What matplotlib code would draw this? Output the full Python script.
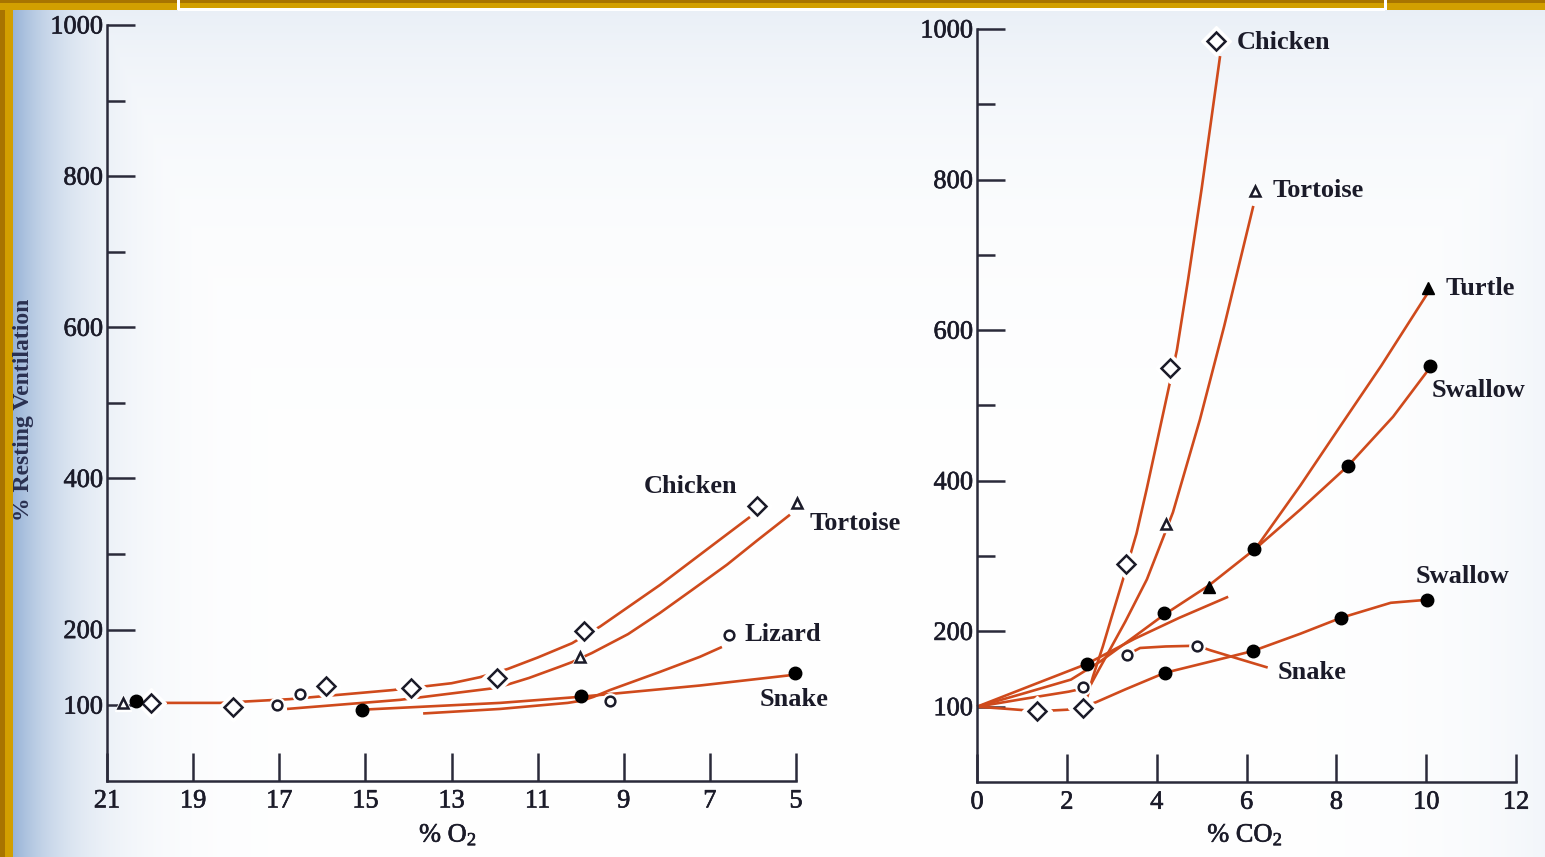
import numpy as np
import matplotlib
matplotlib.use('Agg')
import matplotlib.pyplot as plt
from matplotlib.patches import Rectangle
import matplotlib.patheffects as pe

# ---------------- data ----------------
# Left panel: % O2 (hypoxia)
o2_chicken_x = [19.98, 18.07, 15.91, 13.94, 11.94, 9.92, 5.90]
o2_chicken_y = [103, 97, 126, 123, 136, 198, 364]
o2_tortoise_x = [20.63, 10.01, 4.98]
o2_tortoise_y = [103, 164, 368]
o2_lizard_x = [17.05, 16.52, 9.32, 6.55]
o2_lizard_y = [100, 115, 106, 193]
o2_snake_x = [20.33, 15.08, 9.99, 5.02]
o2_snake_y = [106, 94, 112, 142]

o2_chicken_curve_x = [19.65, 18.38, 16.75, 14.36, 13.0, 12.34, 11.69, 11.0, 10.20, 9.55, 8.16, 7.0, 6.07]
o2_chicken_curve_y = [103, 103, 108, 120, 129, 137, 148, 163, 182, 204, 259, 309, 349]
o2_tortoise_curve_x = [16.82, 14.20, 11.94, 11.2, 10.48, 10.20, 9.74, 8.9, 8.16, 7.4, 6.60, 5.9, 5.14]
o2_tortoise_curve_y = [95, 107, 123, 136, 151, 157, 169, 194, 222, 253, 286, 318, 352]
o2_snake_curve_x = [15.08, 11.87, 10.02, 7.23, 5.07]
o2_snake_curve_y = [94, 103, 111, 126, 140]
o2_lizard_curve_x = [13.66, 11.87, 10.3, 9.97, 9.7, 9.32, 8.16, 7.23, 6.72]
o2_lizard_curve_y = [89, 95, 103, 106, 111, 120, 144, 164, 177]

# Right panel: % CO2 (hypercapnia)
co2_chicken_x = [1.34, 2.36, 3.32, 4.30, 5.32]
co2_chicken_y = [94, 98, 289, 550, 984]
co2_tortoise_x = [4.21, 6.19]
co2_tortoise_y = [342, 785]
co2_turtle_x = [5.16, 10.04]
co2_turtle_y = [259, 656]
co2_swallow_hi_x = [2.45, 4.16, 6.17, 8.26, 10.08]
co2_swallow_hi_y = [157, 225, 310, 420, 552]
co2_snake_x = [2.36, 3.34, 4.90]
co2_snake_y = [126, 169, 181]
co2_swallow_lo_x = [4.18, 6.14, 8.10, 10.02]
co2_swallow_lo_y = [145, 174, 218, 242]

co2_chicken_curve_x = [0, 0.7, 1.34, 2.0, 2.36, 2.45, 2.58, 2.8, 3.0, 3.32, 3.55, 3.78, 4.28, 4.45, 4.7, 5.0, 5.41]
co2_chicken_curve_y = [100, 97, 94, 96, 99, 112, 140, 180, 220, 283, 330, 390, 527, 574, 668, 788, 964]
co2_tortoise_curve_x = [0, 1.0, 2.04, 2.5, 2.7, 2.83, 3.3, 3.78, 4.14, 4.36, 4.96, 5.5, 6.15]
co2_tortoise_curve_y = [100, 110, 120, 126, 148, 162, 213, 269, 324, 358, 481, 605, 765]
co2_turtle_curve_x = [0, 1.0, 2.09, 2.74, 3.5, 4.16, 5.16, 6.2, 7.2, 8.08, 9.0, 10.04]
co2_turtle_curve_y = [100, 117, 136, 160, 193, 222, 261, 310, 394, 472, 553, 650]
co2_swallow_hi_curve_x = [6.2, 7.2, 8.26, 9.26, 10.08]
co2_swallow_hi_curve_y = [310, 362, 420, 485, 550]
co2_extra_curve_x = [0, 1.2, 2.45, 3.5, 4.5, 5.59]
co2_extra_curve_y = [100, 128, 157, 190, 218, 246]
co2_snake_curve_x = [3.34, 3.63, 4.2, 4.9, 5.19, 5.8, 6.47]
co2_snake_curve_y = [169, 178, 180, 181, 175, 164, 152]
co2_swallow_lo_curve_x = [2.45, 2.65, 3.3, 4.18, 5.2, 6.14, 7.2, 8.10, 9.21, 10.02]
co2_swallow_lo_curve_y = [102, 106, 123, 145, 160, 174, 197, 218, 238, 242]

y_major = [100, 200, 400, 600, 800, 1000]
y_major_labels = ['100', '200', '400', '600', '800', '1000']
y_minor = [300, 500, 700, 900]
o2_ticks = [21, 19, 17, 15, 13, 11, 9, 7, 5]
co2_ticks = [0, 2, 4, 6, 8, 10, 12]

# ---------------- style ----------------
plt.rcParams['font.family'] = ['Liberation Serif', 'DejaVu Serif']
plt.rcParams['mathtext.fontset'] = 'custom'
plt.rcParams['mathtext.rm'] = 'Liberation Serif'
plt.rcParams['mathtext.it'] = 'Liberation Serif:italic'

TXT = '#1b1b29'
AXC = '#2a2a3a'
CURVE = '#cf4a1c'
HEAVY = [pe.withStroke(linewidth=0.45, foreground=TXT)]

W, H = 1545, 857
fig = plt.figure(figsize=(W / 100, H / 100), dpi=100)

# background gradient and border
bg = fig.add_axes([0, 0, 1, 1])
bg.set_axis_off()
xx = np.arange(W)[None, :].astype(float)
yy = np.arange(H)[:, None].astype(float)
f = np.exp(-np.clip(xx - 12, 0, None) / 55.0)
f = np.maximum(f, 0.22 * np.exp(-yy / 130.0))
f = np.maximum(f, 0.12 * np.exp(-(W - xx) / 90.0))
blue = np.array([150, 178, 214]) / 255.0
img = (1 - f)[..., None] * np.ones(3) + f[..., None] * blue
bg.imshow(img, extent=[0, W, H, 0], aspect='auto', interpolation='bilinear')
bg.set_xlim(0, W)
bg.set_ylim(H, 0)
bg.add_patch(Rectangle((0, 0), 13, H, color='#d29f00', lw=0))
bg.add_patch(Rectangle((0, 0), 5, H, color='#a87400', lw=0))
bg.add_patch(Rectangle((0, 0), W, 9.5, color='#d29f00', lw=0))
bg.add_patch(Rectangle((0, 0), W, 3, color='#a87400', lw=0))
bg.add_patch(Rectangle((178, 8), 1207, 3, color='white', lw=0))
bg.add_patch(Rectangle((177, 0), 2.5, 10, color='white', lw=0))
bg.add_patch(Rectangle((1384, 0), 2.5, 10, color='white', lw=0))


def style_axes(ax):
    ax.set_facecolor('none')
    for s in ['top', 'right']:
        ax.spines[s].set_visible(False)
    for s in ['left', 'bottom']:
        ax.spines[s].set_color(AXC)
        ax.spines[s].set_linewidth(1.8)
    ax.tick_params(which='major', direction='in', length=20, width=1.8, colors=AXC,
                   labelsize=19, labelcolor=TXT)
    ax.tick_params(axis='y', which='major', pad=3)
    ax.tick_params(axis='x', which='major', pad=7)
    ax.tick_params(axis='y', which='minor', direction='in', length=13, width=1.8, colors=AXC)
    ax.set_ylim(0, 1000)
    ax.set_yticks(y_major)
    ax.set_yticklabels(y_major_labels)
    ax.set_yticks(y_minor, minor=True)


def heavy_ticklabels(ax):
    for t in ax.get_xticklabels() + ax.get_yticklabels():
        t.set_path_effects(HEAVY)


def curve(ax, x, y):
    ax.plot(x, y, color=CURVE, lw=1.9, zorder=2, solid_capstyle='butt',
            solid_joinstyle='round', clip_on=False)


def open_marks(ax, x, y, marker, ms, halo=6):
    ax.plot(x, y, ls='none', marker=marker, ms=ms + halo, mfc='white', mec='white',
            zorder=3, clip_on=False)
    ax.plot(x, y, ls='none', marker=marker, ms=ms, mfc='white', mec=TXT, mew=1.8,
            zorder=4, clip_on=False)


def filled_marks(ax, x, y, marker, ms):
    ax.plot(x, y, ls='none', marker=marker, ms=ms, mfc='black', mec='black',
            zorder=4, clip_on=False)


lab = dict(fontsize=19, fontweight='bold', color=TXT)

# ---------------- left panel ----------------
ax1 = fig.add_axes([0.0693, 0.0890, 0.4459, 0.8818])
style_axes(ax1)
ax1.set_xlim(21, 5)
ax1.set_xticks(o2_ticks)
ax1.set_xticklabels([str(t) for t in o2_ticks])
heavy_ticklabels(ax1)

curve(ax1, o2_chicken_curve_x, o2_chicken_curve_y)
curve(ax1, o2_tortoise_curve_x, o2_tortoise_curve_y)
curve(ax1, o2_snake_curve_x, o2_snake_curve_y)
curve(ax1, o2_lizard_curve_x, o2_lizard_curve_y)
open_marks(ax1, o2_chicken_x, o2_chicken_y, 'D', 9.5)
open_marks(ax1, o2_tortoise_x, o2_tortoise_y, '^', 7, halo=4)
open_marks(ax1, o2_lizard_x, o2_lizard_y, 'o', 7, halo=4)
filled_marks(ax1, o2_snake_x, o2_snake_y, 'o', 9)

ax1.text(7.44, 389, 'Chicken', ha='center', va='center', **lab)
ax1.text(3.63, 341, 'Tortoise', ha='center', va='center', **lab)
ax1.text(6.19, 193, 'Lizard', ha='left', va='center', **lab)
ax1.text(5.05, 108, 'Snake', ha='center', va='center', **lab)

# ---------------- right panel ----------------
ax2 = fig.add_axes([0.6324, 0.0875, 0.3489, 0.8787])
style_axes(ax2)
ax2.set_xlim(0, 12)
ax2.set_xticks(co2_ticks)
ax2.set_xticklabels([str(t) for t in co2_ticks])
heavy_ticklabels(ax2)

curve(ax2, co2_chicken_curve_x, co2_chicken_curve_y)
curve(ax2, co2_tortoise_curve_x, co2_tortoise_curve_y)
curve(ax2, co2_turtle_curve_x, co2_turtle_curve_y)
curve(ax2, co2_swallow_hi_curve_x, co2_swallow_hi_curve_y)
curve(ax2, co2_extra_curve_x, co2_extra_curve_y)
curve(ax2, co2_snake_curve_x, co2_snake_curve_y)
curve(ax2, co2_swallow_lo_curve_x, co2_swallow_lo_curve_y)
open_marks(ax2, co2_chicken_x, co2_chicken_y, 'D', 9.5)
open_marks(ax2, co2_tortoise_x, co2_tortoise_y, '^', 7, halo=4)
open_marks(ax2, co2_snake_x, co2_snake_y, 'o', 7, halo=4)
filled_marks(ax2, co2_turtle_x, co2_turtle_y, '^', 9)
filled_marks(ax2, co2_swallow_hi_x, co2_swallow_hi_y, 'o', 9)
filled_marks(ax2, co2_swallow_lo_x, co2_swallow_lo_y, 'o', 9)

ax2.text(5.77, 982, 'Chicken', ha='left', va='center', **lab)
ax2.text(6.57, 785, 'Tortoise', ha='left', va='center', **lab)
ax2.text(10.44, 656, 'Turtle', ha='left', va='center', **lab)
ax2.text(10.13, 520, 'Swallow', ha='left', va='center', **lab)
ax2.text(9.77, 273, 'Swallow', ha='left', va='center', **lab)
ax2.text(6.68, 145, 'Snake', ha='left', va='center', **lab)

# ---------------- axis titles ----------------
fig.text(24 / W, 1 - 410 / H, '% Resting Ventilation', rotation=90, ha='center', va='center',
         fontsize=17, fontweight='bold', color='#2a3050')
fig.text(448 / W, 1 - 835 / H, '% O$_2$', ha='center', va='center', fontsize=19, color=TXT,
         path_effects=HEAVY)
fig.text(1245 / W, 1 - 835 / H, '% CO$_2$', ha='center', va='center', fontsize=19, color=TXT,
         path_effects=HEAVY)

fig.savefig('out.png', dpi=100)
